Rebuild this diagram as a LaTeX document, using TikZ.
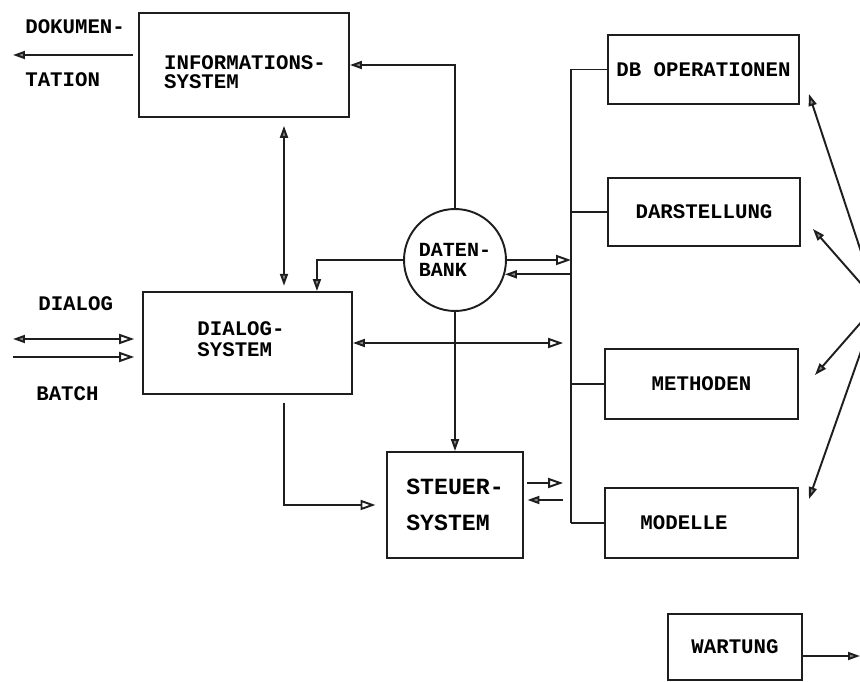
\documentclass[tikz,border=0pt]{standalone}
\usepackage{fontspec}
\newfontfamily\plotfont{Liberation Mono}
\usepackage{tikz}
\usetikzlibrary{arrows.meta,calc}
\definecolor{ink}{HTML}{1E1E1E}
\definecolor{tipgray}{HTML}{8A8A8A}
\tikzset{
  box/.style={draw=ink,line width=1.1pt,align=left,inner sep=0pt,
              font=\plotfont\bfseries\fontsize{11.8}{10.8}\selectfont},
  disc/.style={circle,draw=ink,line width=1.1pt,align=left,inner sep=0pt,
               minimum size=2.04cm,font=\plotfont\bfseries\fontsize{11.4}{10.8}\selectfont},
  caption/.style={anchor=west,inner sep=0pt,
                  font=\plotfont\bfseries\fontsize{11.8}{10.8}\selectfont},
  boxtext/.style={align=left,inner sep=0pt,
                  font=\plotfont\bfseries\fontsize{11.8}{10.8}\selectfont},
  link/.style={ink,line width=1.1pt},
  flow/.style={link,-{Triangle[length=2.4mm,width=1.6mm,fill=tipgray]}},
  flowopen/.style={link,-{Triangle[open,length=3mm,width=2mm]}},
  twoway/.style={link,{Triangle[length=2.4mm,width=1.6mm,fill=tipgray]}-{Triangle[open,length=3mm,width=2mm]}},
  bothway/.style={link,{Triangle[length=2.4mm,width=1.6mm,fill=tipgray]}-{Triangle[length=2.4mm,width=1.6mm,fill=tipgray]}},
}

\begin{document}
\begin{tikzpicture}[x=0.02cm,y=-0.02cm]
  \useasboundingbox (0,0) rectangle (860,682);
  \clip (0,0) rectangle (860,682);

  % ---- Left column ----
  \node[box,minimum width=4.2cm,minimum height=2.08cm]
    (info)at(244,65){};
  \node[boxtext] (infotxt)at(245,72){INFORMATIONS-\\SYSTEM};
  \node[box,minimum width=4.18cm,minimum height=2.04cm]
    (dialog)at(247.5,343){};
  \node[boxtext] (dialogtxt)at(241,339){DIALOG-\\[1.5pt]SYSTEM};
  \node[caption] (doktop)at(25,27){DOKUMEN-};
  \node[caption] (dokbot)at(25,80){TATION};
  \node[caption] (dlgtxt)at(38,304){DIALOG};
  \node[caption] (battxt)at(36,394){BATCH};

  % ---- Centre: database and control ----
  \node[disc] (db)at(455,260){DATEN-\\[0.6pt]BANK};
  \node[box,minimum width=2.72cm,minimum height=2.12cm,
        font=\plotfont\bfseries\fontsize{13.2}{10.8}\selectfont]
    (steuer)at(455,505){STEUER-\\[9.6pt]SYSTEM};

  % ---- Right column ----
  \node[box,minimum width=3.82cm,minimum height=1.38cm]
    (dbop)at(703.5,69.5){DB OPERATIONEN};
  \node[box,minimum width=3.84cm,minimum height=1.36cm]
    (darst)at(704,212){DARSTELLUNG};
  \node[box,minimum width=3.86cm,minimum height=1.4cm]
    (meth)at(701.5,384){METHODEN};
  \node[box,minimum width=3.86cm,minimum height=1.4cm]
    (mod)at(701.5,523){};
  \node[boxtext] (modtxt)at(684,523){MODELLE};
  \node[box,minimum width=2.68cm,minimum height=1.32cm]
    (wart)at(735,647){WARTUNG};

  % ---- Helper points ----
  \coordinate (bustop) at (571,68);
  \coordinate (vx) at (284,0);
  \coordinate (doku) at (13,55);
  \coordinate (inA) at (13,339);
  \coordinate (inB) at (13,357);
  \coordinate (hub) at (878,303);
  \coordinate (wout) at (860,0);
  \coordinate (sA) at ([shift={(0,-22)}]steuer.east);
  \coordinate (sB) at ([shift={(0,-5)}]steuer.east);
  \coordinate (wA) at ([shift={(0,9)}]wart.east);

  % ---- Bus to the modules ----
  \draw[link] (dbop.west -| bustop) -- (mod.west -| bustop);
  \draw[link] (dbop.west -| bustop) -- (dbop.west);
  \draw[link] (darst.west -| bustop) -- (darst.west);
  \draw[link] (meth.west -| bustop) -- (meth.west);
  \draw[link] (mod.west -| bustop) -- (mod.west);

  % ---- Connectors ----
  \draw[flow,shorten <=3pt] (info.west |- doku) -- (doku);
  \draw[flow] (db.north) |- (info.east);
  \draw[bothway,shorten <=4.5pt,shorten >=3pt] (info.south -| vx) -- (dialog.north -| vx);
  \draw[flow] (db.west) -| ([shift={(-36,0)}]dialog.north east);
  \draw[twoway,shorten >=4.5pt] (inA) -- (dialog.west |- inA);
  \draw[flowopen,shorten >=4.5pt] (inB) -- (dialog.west |- inB);
  \draw[twoway,shorten >=4.5pt] (dialog.east) -- (dialog.east -| bustop);
  \draw[flowopen] (db.east) -- (db.east -| bustop);
  \draw[flow] (db.-16 -| bustop) -- (db.-16);
  \draw[flow] (db.south) -- (steuer.north);
  \draw[flowopen,shorten <=4.5pt,shorten >=6pt] (dialog.south -| vx) |- (steuer.west);
  \draw[flowopen,shorten <=2pt,shorten >=4.5pt] (sA) -- (sA -| bustop);
  \draw[flow,shorten <=4.5pt,shorten >=2pt] (sB -| bustop) -- (sB);

  % ---- Maintenance links ----
  \draw[flow] (hub) -- ([shift={(9,-11)}]dbop.south east);
  \draw[flow] (hub) -- ([shift={(12,-18)}]darst.south east);
  \draw[flow] (hub) -- ([shift={(16,27)}]meth.north east);
  \draw[flow] (hub) -- ([shift={(10,12)}]mod.north east);
  \draw[flow] (wA) -- (wA -| wout);
\end{tikzpicture}
\end{document}
